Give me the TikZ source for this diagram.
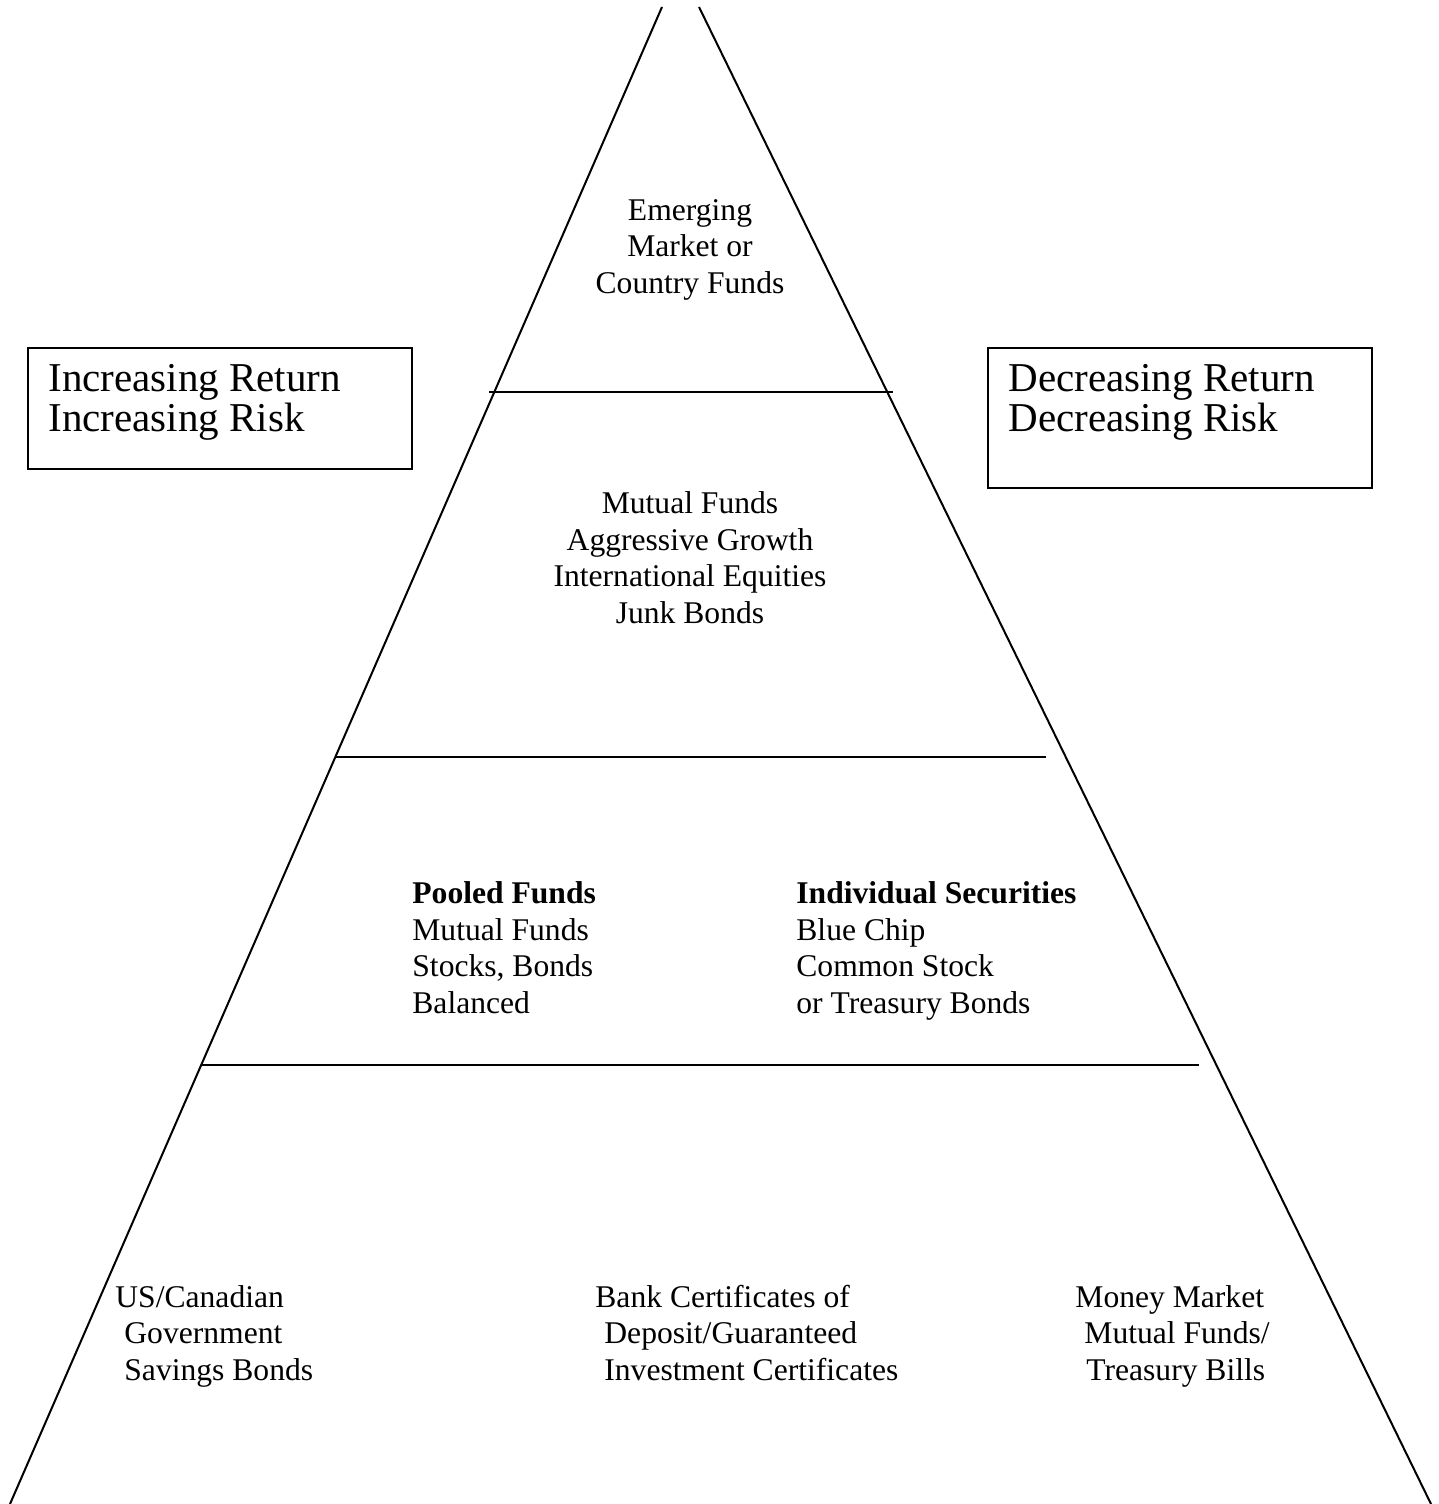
\documentclass[tikz,border=0pt]{standalone}
\usepackage{fontspec}
\setmainfont{Liberation Serif}
\begin{document}
\begin{tikzpicture}[x=0.5pt,y=-0.5pt,
  ln/.style={line width=1pt},
  tx/.style={inner sep=0pt,font=\fontsize{15.8}{18.3}\selectfont},
  txl/.style={tx,anchor=base west},
  txc/.style={tx,anchor=base},
  big/.style={inner sep=0pt,anchor=base west,font=\fontsize{20.5}{20}\selectfont}]
\useasboundingbox (0,0) rectangle (1439,1504);
% pyramid sides
\coordinate (tl) at (662,7);
\coordinate (bl) at (10,1504);
\coordinate (tr) at (699,7);
\coordinate (br) at (1431,1504);
\draw[ln] (tl) -- (bl);
\draw[ln] (tr) -- (br);
% tier lines
\coordinate (h1a) at (489,392); \coordinate (h1b) at (893,392);
\coordinate (h2a) at (336,757); \coordinate (h2b) at (1046,757);
\coordinate (h3a) at (202,1065); \coordinate (h3b) at (1199,1065);
\draw[ln] (h1a) -- (h1b);
\draw[ln] (h2a) -- (h2b);
\draw[ln] (h3a) -- (h3b);
% side boxes
\coordinate (lb1) at (28,348); \coordinate (lb2) at (412,469);
\coordinate (rb1) at (988,348); \coordinate (rb2) at (1372,488);
\draw[ln] (lb1) rectangle (lb2);
\draw[ln] (rb1) rectangle (rb2);
\node[big] (l1) at (48,391) {Increasing Return};
\node[big] (l2) at (48,431) {Increasing Risk};
\node[big] (r1) at (1008,391) {Decreasing Return};
\node[big] (r2) at (1008,431) {Decreasing Risk};
% top tier
\node[txc] (e1) at (690,220) {Emerging};
\node[txc] (e2) at (690,256.7) {Market or};
\node[txc] (e3) at (690,293.3) {Country Funds};
% second tier
\node[txc] (m1) at (690,513) {Mutual Funds};
\node[txc] (m2) at (690,550) {Aggressive Growth};
\node[txc] (m3) at (690,586.5) {International Equities};
\node[txc] (m4) at (690,623) {Junk Bonds};
% third tier
\node[txl] (p1) at (412,903) {\bfseries Pooled Funds};
\node[txl] (p2) at (412,940) {Mutual Funds};
\node[txl] (p3) at (412,976.5) {Stocks, Bonds};
\node[txl] (p4) at (412,1013) {Balanced};
\node[txl] (s1) at (796,903) {\bfseries Individual Securities};
\node[txl] (s2) at (796,940) {Blue Chip};
\node[txl] (s3) at (796,976.5) {Common Stock};
\node[txl] (s4) at (796,1013) {or Treasury Bonds};
% bottom tier
\node[txl] (u1) at (115,1307) {US/Canadian};
\node[txl] (u2) at (124,1343.5) {Government};
\node[txl] (u3) at (124,1380) {Savings Bonds};
\node[txl] (b1) at (595,1307) {Bank Certificates of};
\node[txl] (b2) at (604,1343.5) {Deposit/Guaranteed};
\node[txl] (b3) at (604,1380) {Investment Certificates};
\node[txl] (k1) at (1075,1307) {Money Market};
\node[txl] (k2) at (1084,1343.5) {Mutual Funds/};
\node[txl] (k3) at (1086,1380) {Treasury Bills};
\end{tikzpicture}
\end{document}
